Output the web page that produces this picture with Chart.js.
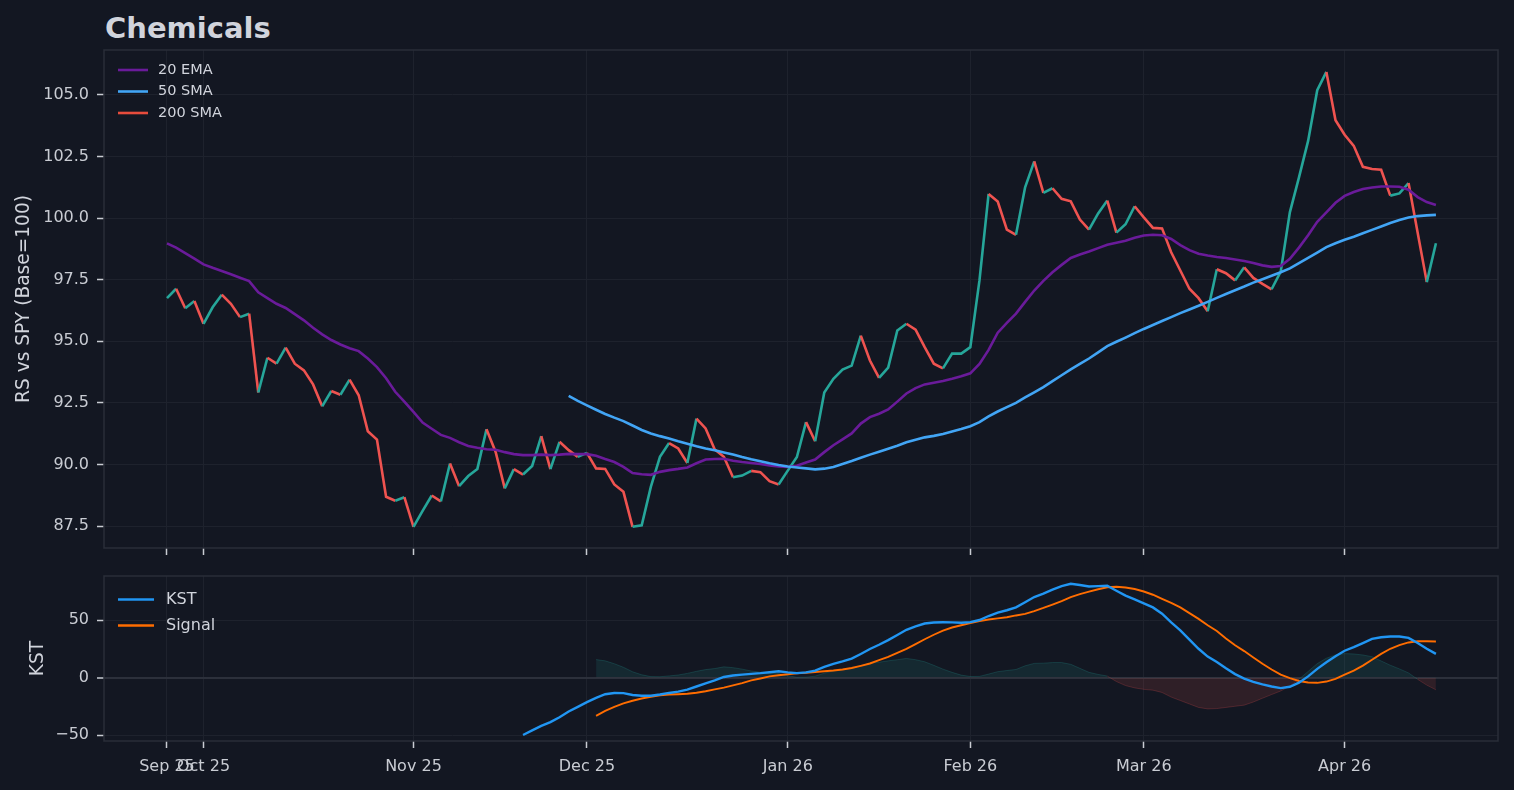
<!DOCTYPE html>
<html><head><meta charset="utf-8">
<script src="https://cdn.jsdelivr.net/npm/chart.js@4.4.0/dist/chart.umd.min.js"></script>
<style>
html,body{margin:0;padding:0;background:#131722;width:1514px;height:790px;overflow:hidden;}
#title{position:absolute;left:105px;top:14px;font:bold 29px "DejaVu Sans";line-height:28px;color:#d1d4dc;white-space:nowrap;}
canvas{position:absolute;left:0;}
</style></head><body>
<div id="title">Chemicals</div>
<canvas id="topChart" width="1514" height="580" style="top:0px"></canvas>
<canvas id="botChart" width="1514" height="250" style="top:540px"></canvas>
<script>
// ---- x axis (trading-day index) ----
const tickIdx = [0, 4, 27, 46, 68, 88, 107, 129];
const tickLabels = ['Sep 25', 'Oct 25', 'Nov 25', 'Dec 25', 'Jan 26', 'Feb 26', 'Mar 26', 'Apr 26'];
const yTicksTop = [87.5, 90, 92.5, 95, 97.5, 100, 102.5, 105];
const yTicksBot = [-50, 0, 50];

// ---- RS vs SPY (Base=100), 140 trading days ----
const rs = [96.75,97.13,96.34,96.63,95.71,96.38,96.89,96.52,95.98,96.12,
92.92,94.33,94.09,94.74,94.09,93.82,93.25,92.36,92.98,92.83,
93.44,92.81,91.35,91.01,88.69,88.53,88.67,87.47,88.12,88.74,
88.50,90.04,89.12,89.53,89.82,91.43,90.51,89.03,89.81,89.59,
89.94,91.15,89.81,90.92,90.58,90.31,90.47,89.84,89.82,89.19,
88.89,87.47,87.53,89.09,90.31,90.87,90.65,90.06,91.86,91.46,
90.61,90.31,89.48,89.55,89.74,89.69,89.32,89.19,89.75,90.30,
91.72,90.94,92.92,93.48,93.85,94.01,95.23,94.22,93.51,93.93,
95.44,95.71,95.47,94.76,94.09,93.90,94.50,94.50,94.76,97.47,
100.98,100.67,99.53,99.32,101.25,102.30,101.02,101.21,100.78,100.68,
99.94,99.53,100.19,100.71,99.41,99.75,100.48,100.03,99.60,99.58,
98.61,97.87,97.13,96.75,96.22,97.92,97.76,97.47,98.00,97.57,
97.33,97.11,97.83,100.23,101.65,103.13,105.19,105.93,103.97,103.38,
102.93,102.08,101.99,101.96,100.91,101.00,101.42,99.40,97.40,98.98];

const ema20 = [98.97,98.80,98.58,98.35,98.12,97.98,97.85,97.72,97.58,97.44,
96.99,96.75,96.52,96.35,96.10,95.85,95.55,95.28,95.05,94.87,
94.72,94.60,94.30,93.95,93.50,92.95,92.55,92.13,91.70,91.45,
91.20,91.08,90.90,90.75,90.68,90.62,90.60,90.50,90.42,90.38,
90.38,90.40,90.38,90.40,90.43,90.42,90.42,90.35,90.22,90.10,
89.90,89.65,89.60,89.58,89.70,89.77,89.82,89.88,90.05,90.20,
90.22,90.23,90.15,90.10,90.06,90.02,89.96,89.92,89.90,89.95,
90.08,90.20,90.50,90.78,91.02,91.26,91.66,91.92,92.06,92.23,
92.55,92.88,93.10,93.25,93.32,93.39,93.48,93.58,93.70,94.08,
94.65,95.35,95.75,96.12,96.60,97.06,97.45,97.80,98.10,98.38,
98.52,98.64,98.78,98.92,99.00,99.08,99.20,99.29,99.32,99.30,
99.15,98.90,98.70,98.55,98.48,98.42,98.38,98.32,98.26,98.18,
98.08,98.02,98.05,98.35,98.80,99.30,99.85,100.23,100.62,100.90,
101.06,101.18,101.24,101.28,101.28,101.27,101.15,100.85,100.65,100.53];

const sma50Start = 44;
const sma50 = [92.78,92.58,92.40,92.22,92.05,91.90,91.76,91.58,91.40,91.26,
91.15,91.05,90.94,90.84,90.74,90.65,90.58,90.49,90.40,90.30,
90.21,90.13,90.05,89.98,89.92,89.88,89.84,89.80,89.83,89.90,
90.02,90.14,90.27,90.40,90.52,90.64,90.76,90.90,91.00,91.10,
91.16,91.24,91.34,91.44,91.55,91.72,91.95,92.15,92.33,92.50,
92.72,92.93,93.14,93.38,93.62,93.86,94.08,94.30,94.55,94.80,
94.98,95.15,95.33,95.50,95.66,95.82,95.98,96.14,96.29,96.44,
96.60,96.76,96.92,97.07,97.22,97.38,97.52,97.66,97.80,97.96,
98.17,98.38,98.60,98.82,98.98,99.12,99.24,99.38,99.52,99.66,
99.80,99.92,100.02,100.08,100.11,100.13];

const sma200 = []; // not enough history: listed in legend only

// ---- KST panel ----
const kstStart = 39;
const kst = [-50.0,-46.0,-42.0,-38.8,-34.5,-29.5,-25.5,-21.4,-17.7,-14.5,
-13.5,-13.6,-15.2,-15.8,-15.9,-14.8,-13.4,-12.3,-10.5,-7.8,
-5.0,-2.5,0.5,1.8,2.5,3.2,3.8,4.6,5.5,4.5,
3.8,4.5,6.0,9.2,11.9,14.0,16.4,20.5,24.8,28.5,
32.5,37.0,41.5,44.5,47.0,47.8,48.1,48.0,47.6,48.2,
50.0,53.5,56.5,58.5,61.0,65.5,70.0,73.0,76.5,79.5,
81.5,80.5,79.2,79.5,79.8,75.5,71.3,68.0,64.5,61.0,
55.5,48.0,41.0,33.0,25.0,18.2,13.5,8.0,3.0,-1.0,
-3.8,-6.0,-7.8,-9.2,-8.0,-4.5,1.0,7.5,13.3,18.5,
23.3,26.5,30.0,33.6,35.0,35.7,35.7,34.5,30.0,25.0,20.6];

const signalStart = 47;
const signal = [-33.3,-29.0,-25.5,-22.5,-20.2,-18.2,-16.7,-15.5,-14.8,-14.5,
-14.1,-13.2,-11.9,-10.3,-8.8,-6.8,-4.8,-2.5,-0.8,1.0,
2.0,2.9,3.6,4.2,4.8,5.4,6.1,7.0,8.3,10.2,
12.2,15.2,18.0,21.5,24.9,29.0,33.3,37.2,40.8,43.5,
45.5,47.3,49.0,50.5,51.4,52.4,54.0,55.3,57.7,60.5,
63.5,66.5,70.0,72.5,74.7,76.8,78.5,79.0,78.3,77.0,
74.8,72.0,68.5,65.0,61.0,56.0,51.0,45.5,40.5,34.0,
28.0,23.0,17.5,12.0,7.0,2.5,-0.5,-3.0,-4.3,-4.6,
-3.5,-1.2,2.5,6.0,10.4,15.5,20.6,25.0,28.2,30.5,31.6,31.6,31.3];

// ---- styling ----
const TXT = '#d1d4dc', TICK = '#c9ccd3', GRID = '#1e222d', SPINE = '#2a2e39';
const UP = '#26a69a', DOWN = '#ef5350';
Chart.defaults.font.family = '"DejaVu Sans", sans-serif';
Chart.defaults.color = TXT;

const toPts = (arr, start) => arr.map((v, k) => ({x: start + k, y: v}));
const kstPts = toPts(kst, kstStart);
const sigPts = toPts(signal, signalStart);
const histPts = [];
for (let i = signalStart; i < kstStart + kst.length; i++) {
  histPts.push({x: i, y: kst[i - kstStart] - signal[i - signalStart]});
}

const framePlugin = {
  id: 'frame',
  afterDraw(chart) {
    const {ctx, chartArea: a} = chart;
    ctx.save();
    ctx.strokeStyle = SPINE; ctx.lineWidth = 1.5;
    ctx.strokeRect(a.left, a.top, a.right - a.left, a.bottom - a.top);
    ctx.restore();
  }
};
const legendPlugin = {
  id: 'customLegend',
  afterDraw(chart, args, o) {
    const {ctx, chartArea: a} = chart;
    ctx.save();
    ctx.font = o.size + 'px "DejaVu Sans"';
    ctx.textBaseline = 'middle';
    let n = 0;
    chart.data.datasets.forEach(ds => {
      if (!ds.inLegend) return;
      const y = a.top + o.y0 + n * o.dy;
      ctx.strokeStyle = ds.borderColor;
      ctx.lineWidth = o.lw;
      ctx.beginPath(); ctx.moveTo(a.left + o.x0, y); ctx.lineTo(a.left + o.x1, y); ctx.stroke();
      ctx.fillStyle = TXT;
      ctx.fillText(ds.label, a.left + o.tx, y);
      n++;
    });
    ctx.restore();
  }
};

function xScale(showLabels) {
  return {
    type: 'linear', min: -6.9, max: 145.8,
    afterBuildTicks: s => { s.ticks = tickIdx.map(v => ({value: v})); },
    ticks: {
      display: showLabels, autoSkip: false, maxRotation: 0, minRotation: 0,
      color: TICK, font: {size: 16}, padding: 9,
      callback: v => { const k = tickIdx.indexOf(v); return k >= 0 ? tickLabels[k] : ''; }
    },
    grid: {color: GRID, lineWidth: 1, tickColor: TICK, tickLength: 7, tickWidth: 1.5},
    border: {display: false},
    afterFit: s => { s.height = showLabels ? 49 : 32; }
  };
}

new Chart(document.getElementById('topChart'), {
  type: 'line',
  data: {
    datasets: [
      {label: '20 EMA', inLegend: true, data: toPts(ema20, 0), borderColor: '#6a1b9a', borderWidth: 2.6, pointRadius: 0, order: 1},
      {label: '50 SMA', inLegend: true, data: toPts(sma50, sma50Start), borderColor: '#42a5f5', borderWidth: 2.6, pointRadius: 0, order: 0},
      {label: '200 SMA', inLegend: true, data: toPts(sma200, 0), borderColor: '#e74c3c', borderWidth: 2.6, pointRadius: 0, order: 2},
      {label: 'RS', data: toPts(rs, 0), borderColor: UP, borderWidth: 2.6, pointRadius: 0, order: 10,
       segment: {borderColor: c => c.p1.parsed.y >= c.p0.parsed.y ? UP : DOWN}}
    ]
  },
  options: {
    responsive: false, animation: false, maintainAspectRatio: false,
    layout: {padding: {top: 50, right: 16, bottom: 0, left: 0}},
    plugins: {legend: {display: false}, tooltip: {enabled: false},
      customLegend: {size: 14.5, y0: 20, dy: 21.5, x0: 14, x1: 44, tx: 54, lw: 2.6}},
    scales: {
      x: xScale(false),
      y: {
        min: 86.61, max: 106.82,
        afterBuildTicks: s => { s.ticks = yTicksTop.map(v => ({value: v})); },
        ticks: {color: TICK, font: {size: 16}, padding: 8, callback: v => v.toFixed(1)},
        grid: {color: GRID, lineWidth: 1, tickColor: TICK, tickLength: 7, tickWidth: 1.5},
        border: {display: false},
        title: {display: true, text: 'RS vs SPY (Base=100)', color: TXT, font: {size: 18.6}, padding: {top: 13, bottom: 0}},
        afterFit: s => { s.width = 104; }
      }
    }
  },
  plugins: [framePlugin, legendPlugin]
});

new Chart(document.getElementById('botChart'), {
  type: 'line',
  data: {
    datasets: [
      {label: 'KST', inLegend: true, data: kstPts, borderColor: '#2196f3', borderWidth: 2.4, pointRadius: 0, order: 0},
      {label: 'Signal', inLegend: true, data: sigPts, borderColor: '#ff6d00', borderWidth: 1.9, pointRadius: 0, order: 1},
      {label: 'Hist', data: histPts, borderWidth: 1, pointRadius: 0, order: 10,
       borderColor: 'rgba(38,166,154,0.2)',
       segment: {borderColor: c => (c.p0.parsed.y + c.p1.parsed.y) >= 0 ? 'rgba(38,166,154,0.22)' : 'rgba(239,83,80,0.22)'},
       fill: {target: 'origin', above: 'rgba(38,166,154,0.13)', below: 'rgba(239,83,80,0.13)'}}
    ]
  },
  options: {
    responsive: false, animation: false, maintainAspectRatio: false,
    layout: {padding: {top: 36, right: 16, bottom: 0, left: 0}},
    plugins: {legend: {display: false}, tooltip: {enabled: false},
      customLegend: {size: 16, y0: 23.5, dy: 26, x0: 14, x1: 50, tx: 62, lw: 2.4}},
    scales: {
      x: xScale(true),
      y: {
        min: -55.2, max: 88.3,
        afterBuildTicks: s => { s.ticks = yTicksBot.map(v => ({value: v})); },
        ticks: {color: TICK, font: {size: 16}, padding: 8, callback: v => v < 0 ? '\u2212' + Math.abs(v) : String(v)},
        grid: {color: c => c.tick && c.tick.value === 0 ? '#2c303b' : GRID,
               lineWidth: c => c.tick && c.tick.value === 0 ? 2 : 1,
               tickColor: TICK, tickLength: 7, tickWidth: 1.5},
        border: {display: false},
        title: {display: true, text: 'KST', color: TXT, font: {size: 18.6}, padding: {top: 27, bottom: 0}},
        afterFit: s => { s.width = 104; }
      }
    }
  },
  plugins: [framePlugin, legendPlugin]
});
</script>
</body></html>
